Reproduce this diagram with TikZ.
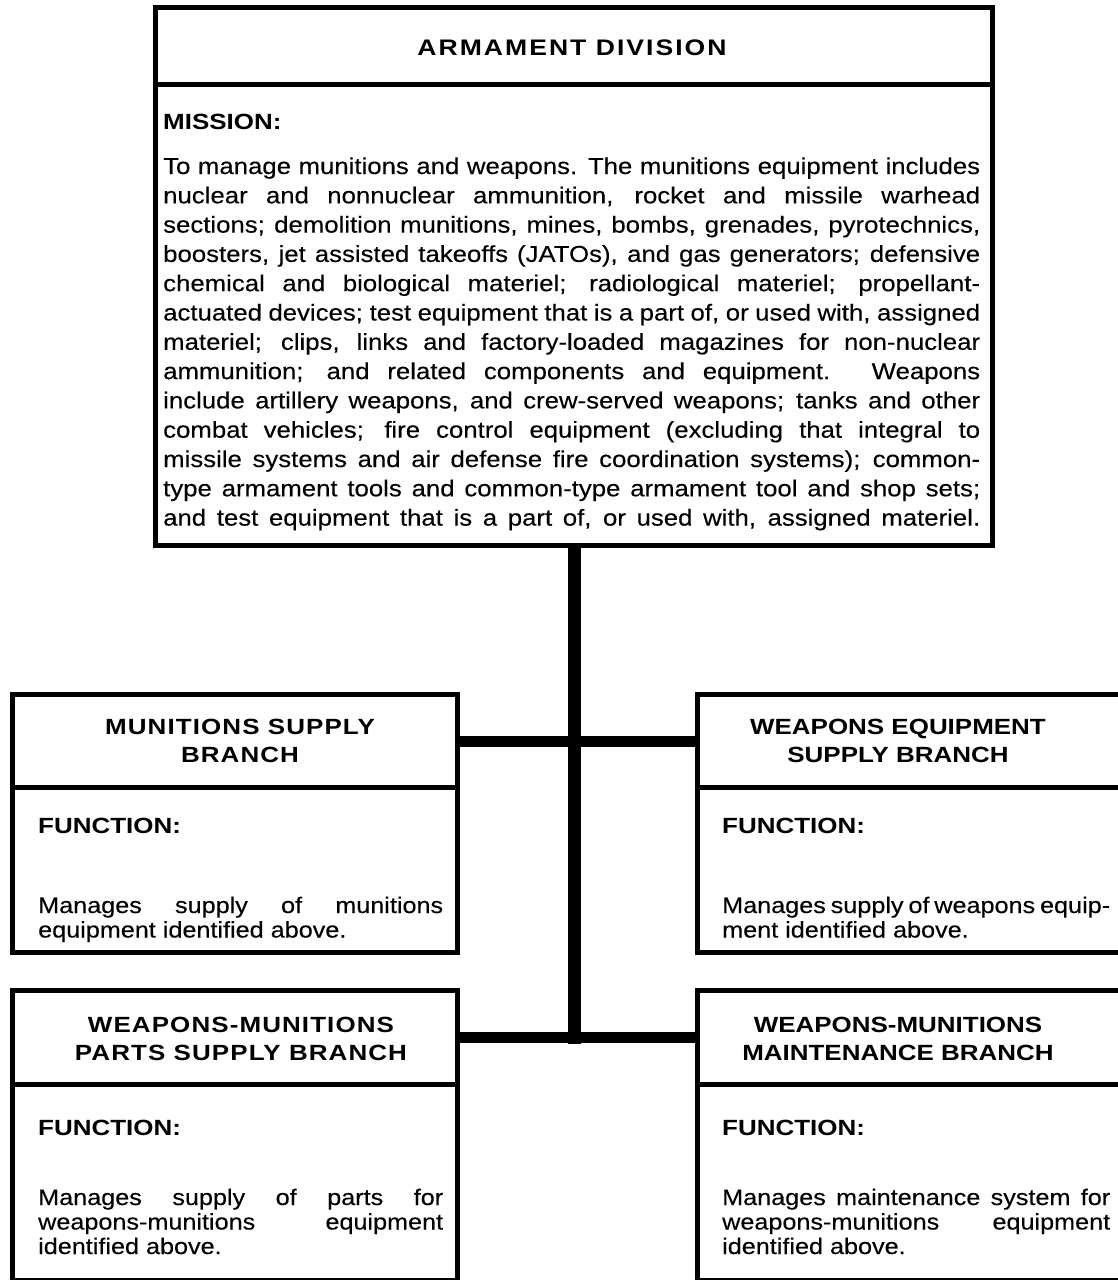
\documentclass[tikz,border=0pt]{standalone}
\usepackage{fontspec}
\setmainfont{Liberation Sans}[FakeStretch=1.12, FakeBold=0.25]
\newfontfamily\headfont{Liberation Sans}[FakeStretch=1.18]
\newfontfamily\headfontwide{Liberation Sans}[FakeStretch=1.18, LetterSpace=5]
\newfontfamily\headfontwider{Liberation Sans}[FakeStretch=1.18, LetterSpace=9]
\newcommand\justline[1]{\makebox[\linewidth][s]{#1}}

\tikzset{
  frame/.style={draw, line width=5pt, inner sep=0pt, anchor=north west},
  headtext/.style={font=\headfont\bfseries\fontsize{22pt}{28pt}\selectfont, align=center, inner sep=0pt},
  headtextwide/.style={font=\headfontwide\bfseries\fontsize{22pt}{28pt}\selectfont, align=center, inner sep=0pt},
  divtext/.style={font=\headfontwider\bfseries\fontsize{22.5pt}{28pt}\selectfont, inner sep=0pt},
  labeltext/.style={font=\headfont\bfseries\fontsize{22pt}{28pt}\selectfont, inner sep=0pt, anchor=base west},
  missiontext/.style={font=\fontsize{23pt}{29.3pt}\selectfont, inner sep=0pt, anchor=base west},
  bodytext/.style={font=\fontsize{22.5pt}{24.5pt}\selectfont, inner sep=0pt, anchor=base west},
  trunk/.style={line width=13pt},
  bar/.style={line width=11pt},
}

\begin{document}
\begin{tikzpicture}[x=1pt, y=-1pt]
\useasboundingbox (0,0) rectangle (1118,1280);

% Division box
\node[frame, minimum width=837pt, minimum height=77pt] (div-title) at (153,5) {};
\node[frame, minimum width=837pt, minimum height=461pt] (div-body) at (153,82) {};
\node[divtext] (div-name) at (572,48) {ARMAMENT DIVISION};
\node[labeltext] (div-label) at (163,129) {MISSION:};
\node[missiontext] (div-text) at (163,174) {\parbox[t]{817pt}{%
\justline{To manage munitions and weapons. The munitions equipment includes}\\
\justline{nuclear and nonnuclear ammunition, rocket and missile warhead}\\
\justline{sections; demolition munitions, mines, bombs, grenades, pyrotechnics,}\\
\justline{boosters, jet assisted takeoffs (JATOs), and gas generators; defensive}\\
\justline{chemical and biological materiel; radiological materiel; propellant-}\\
\justline{actuated devices; test equipment that is a part of, or used with, assigned}\\
\justline{materiel; clips, links and factory-loaded magazines for non-nuclear}\\
\justline{ammunition; and related components and equipment. Weapons}\\
\justline{include artillery weapons, and crew-served weapons; tanks and other}\\
\justline{combat vehicles; fire control equipment (excluding that integral to}\\
\justline{missile systems and air defense fire coordination systems); common-}\\
\justline{type armament tools and common-type armament tool and shop sets;}\\
\justline{and test equipment that is a part of, or used with, assigned materiel.}}};

% Munitions supply branch
\node[frame, minimum width=445pt, minimum height=93pt] (ms-title) at (10,692) {};
\node[frame, minimum width=445pt, minimum height=165pt] (ms-body) at (10,785) {};
\node[headtextwide] (ms-name) at (240,741) {MUNITIONS SUPPLY\\BRANCH};
\node[labeltext] (ms-label) at (38,833) {FUNCTION:};
\node[bodytext] (ms-text) at (38,913) {\parbox[t]{405pt}{%
\justline{Manages supply of munitions}\\
equipment identified above.}};

% Weapons equipment supply branch
\node[frame, minimum width=450pt, minimum height=93pt] (wes-title) at (695,692) {};
\node[frame, minimum width=450pt, minimum height=165pt] (wes-body) at (695,785) {};
\node[headtext] (wes-name) at (898,741) {WEAPONS EQUIPMENT\\SUPPLY BRANCH};
\node[labeltext] (wes-label) at (722,833) {FUNCTION:};
\node[bodytext] (wes-text) at (722,913) {\parbox[t]{388pt}{%
\justline{Manages supply of weapons equip-}\\
ment identified above.}};

% Weapons-munitions parts supply branch
\node[frame, minimum width=445pt, minimum height=94pt] (wmp-title) at (10,988) {};
\node[frame, minimum width=445pt, minimum height=196pt] (wmp-body) at (10,1082) {};
\node[headtextwide] (wmp-name) at (241,1039) {WEAPONS-MUNITIONS\\PARTS SUPPLY BRANCH};
\node[labeltext] (wmp-label) at (38,1135) {FUNCTION:};
\node[bodytext] (wmp-text) at (38,1205) {\parbox[t]{405pt}{%
\justline{Manages supply of parts for}\\
\justline{weapons-munitions equipment}\\
identified above.}};

% Weapons-munitions maintenance branch
\node[frame, minimum width=450pt, minimum height=94pt] (wmm-title) at (695,988) {};
\node[frame, minimum width=450pt, minimum height=196pt] (wmm-body) at (695,1082) {};
\node[headtext] (wmm-name) at (898,1039) {WEAPONS-MUNITIONS\\MAINTENANCE BRANCH};
\node[labeltext] (wmm-label) at (722,1135) {FUNCTION:};
\node[bodytext] (wmm-text) at (722,1205) {\parbox[t]{388pt}{%
\justline{Manages maintenance system for}\\
\justline{weapons-munitions equipment}\\
identified above.}};

% Connecting lines
\coordinate (trunk-end) at (div-body.south |- wmp-title.east);
\draw[trunk] (div-body.south) -- ([yshift=-6pt]trunk-end);
\draw[bar] (ms-title.east) -- (wes-title.west);
\draw[bar] (wmp-title.east) -- (wmm-title.west);
\end{tikzpicture}
\end{document}
